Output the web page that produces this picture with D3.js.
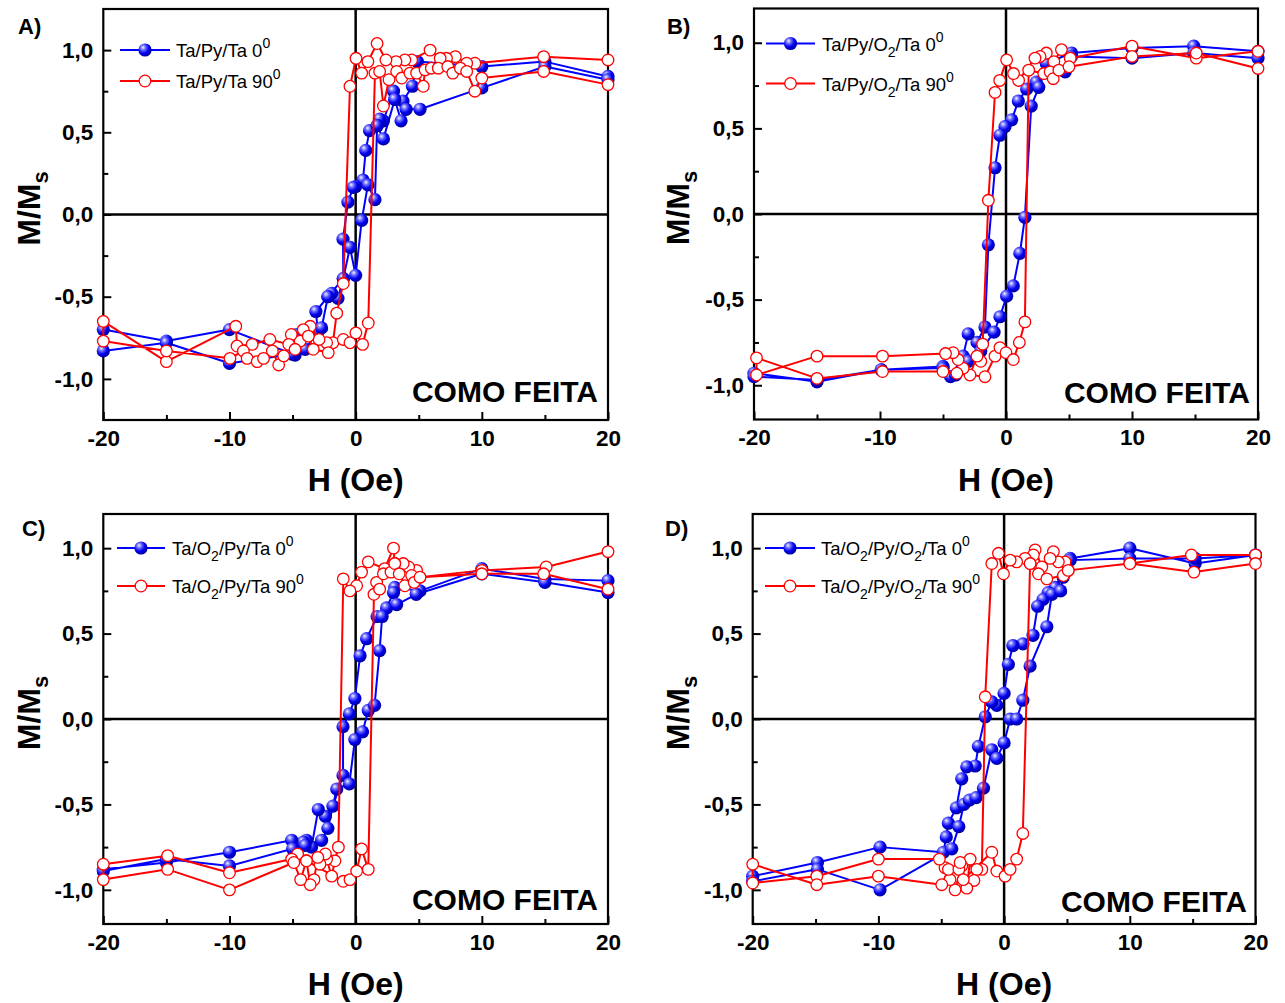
<!DOCTYPE html>
<html><head><meta charset="utf-8">
<script src="https://cdn.jsdelivr.net/npm/d3@7"></script>
<style>body{margin:0;background:#fff}svg{display:block}text{font-family:"Liberation Sans",Arial,sans-serif}</style>
</head><body><svg id="c" width="1285" height="1003"></svg>
<script>
// ---------- data ----------
const xTicks = [-20, -10, 0, 10, 20];
const xMinorTicks = [-15, -5, 5, 15];
const yTicks = [-1, -0.5, 0, 0.5, 1];
const yMinorTicks = [-0.75, -0.25, 0.25, 0.75];
const yTickLabels = ["-1,0", "-0,5", "0,0", "0,5", "1,0"];
const xTickLabels = ["-20", "-10", "0", "10", "20"];
const panelLetters = ["A)", "B)", "C)", "D)"];
const legendBlue = ["Ta/Py/Ta 0^0", "Ta/Py/O_2/Ta 0^0", "Ta/O_2/Py/Ta 0^0", "Ta/O_2/Py/O_2/Ta 0^0"];
const legendRed = ["Ta/Py/Ta 90^0", "Ta/Py/O_2/Ta 90^0", "Ta/O_2/Py/Ta 90^0", "Ta/O_2/Py/O_2/Ta 90^0"];
const xTitle = "H (Oe)";
const yTitle = "M/M_s";
const stateLabel = "COMO FEITA";

// Panel A  (H in Oe, M/Ms)
const blueA = [[20,0.84],[15,0.93],[10,0.90],[4.9,0.93],[4.5,0.78],[3.75,0.69],[3.1,0.70],[3.0,0.75],[2.2,0.57],[1.9,0.58],[1.7,0.54],[1.1,0.51],[0.8,0.39],[0.58,0.21],[0,0.17],[-0.19,0.165],[-0.61,0.075],[-1.0,-0.15],[-0.98,-0.39],[-1.4,-0.51],[-1.9,-0.48],[-2.2,-0.50],[-3.15,-0.59],[-3.0,-0.71],[-4.7,-0.73],[-4.8,-0.855],[-10,-0.70],[-15,-0.77],[-20,-0.70],
  [-20,-0.83],[-15,-0.78],[-10,-0.905],[-5,-0.85],[-4.0,-0.82],[-3.0,-0.71],[-2.7,-0.69],[-2.2,-0.50],[-0.98,-0.39],[-0.45,-0.20],[0,-0.37],[0.48,-0.036],[0.97,0.18],[1.53,0.09],[1.7,0.54],[2.2,0.46],[3.1,0.70],[3.6,0.57],[4.0,0.64],[5.1,0.64],[10,0.77],[15,0.90],[20,0.82]];
const redA = [[20,0.94],[14.9,0.96],[9.45,0.92],[8.8,0.92],[7.9,0.96],[7.2,0.95],[6.7,0.95],[5.9,1.0],[4.44,0.94],[3.9,0.94],[3.2,0.93],[2.4,0.94],[1.7,1.04],[0.97,0.93],[0.48,0.86],[0.03,0.95],[-0.45,0.78],[-0.98,-0.42],[-1.5,-0.60],[-1.8,-0.78],[-2.3,-0.78],[-2.9,-0.76],[-3.6,-0.68],[-4.15,-0.70],[-4.4,-0.77],[-5.1,-0.73],[-5.3,-0.79],[-6.8,-0.76],[-8.2,-0.79],[-9.4,-0.80],[-9.5,-0.68],[-15,-0.895],[-20,-0.65],
  [-20,-0.77],[-15,-0.83],[-9.96,-0.875],[-8.9,-0.83],[-8.6,-0.875],[-7.8,-0.895],[-7.3,-0.875],[-6.6,-0.83],[-6.1,-0.915],[-5.7,-0.86],[-4.8,-0.82],[-3.75,-0.74],[-3.36,-0.82],[-2.17,-0.84],[-0.98,-0.76],[-0.45,-0.78],[0.02,-0.72],[0.55,-0.79],[1.0,-0.66],[1.53,0.86],[1.9,0.87],[2.2,0.66],[2.64,0.82],[3.25,0.87],[3.65,0.83],[4.3,0.86],[4.83,0.86],[5.36,0.78],[5.5,0.88],[6.0,0.89],[6.55,0.89],[7.3,0.90],[7.7,0.86],[8.3,0.89],[8.8,0.87],[9.45,0.75],[10,0.83],[14.9,0.87],[20,0.79]];

// Panel B
const blueB = [[20,0.95],[14.9,0.98],[10,0.97],[5.2,0.94],[3.2,0.88],[2.4,0.77],[1.64,0.73],[0.98,0.66],[0.45,0.55],[-0.08,0.51],[-0.48,0.46],[-0.87,0.27],[-1.4,-0.18],[-1.67,-0.66],[-2.3,-0.75],[-3.0,-0.70],[-3.4,-0.83],[-4.4,-0.95],[-5,-0.89],[-9.9,-0.91],[-15,-0.98],[-20,-0.93],
  [-20,-0.95],[-15,-0.97],[-9.9,-0.91],[-5,-0.90],[-4.0,-0.94],[-3.0,-0.86],[-2.0,-0.80],[-0.95,-0.69],[-0.48,-0.60],[0.05,-0.48],[0.58,-0.42],[1.1,-0.23],[1.5,-0.02],[2.0,0.63],[2.6,0.74],[3.2,0.88],[4.7,0.83],[5.2,0.92],[10,0.91],[14.9,0.94],[20,0.91]];
const redB = [[20,0.95],[15.1,0.91],[10,0.98],[5.1,0.91],[4.4,0.96],[3.8,0.89],[3.2,0.94],[2.7,0.92],[2.3,0.91],[1.0,0.78],[0.6,0.82],[0.05,0.90],[-0.5,0.78],[-0.87,0.71],[-1.4,0.08],[-1.85,-0.76],[-2.0,-0.86],[-2.3,-0.83],[-2.86,-0.94],[-3.4,-0.90],[-3.8,-0.85],[-4.2,-0.81],[-4.8,-0.815],[-9.8,-0.83],[-15,-0.83],[-19.8,-0.94],
  [-19.8,-0.84],[-15,-0.96],[-9.8,-0.92],[-5,-0.92],[-3.9,-0.93],[-1.67,-0.95],[-0.87,-0.83],[-0.48,-0.78],[0,-0.81],[0.58,-0.85],[1.06,-0.75],[1.5,-0.63],[1.8,0.84],[3.0,0.82],[3.5,0.83],[3.75,0.79],[4.2,0.84],[5,0.86],[10,0.92],[15.1,0.94],[20,0.85]];

// Panel C
const blueC = [[20,0.81],[15,0.82],[10,0.88],[5.1,0.75],[3.1,0.77],[3.0,0.74],[2.45,0.65],[1.7,0.60],[0.87,0.47],[0.35,0.37],[-0.06,0.12],[-0.5,0.03],[-1.0,-0.045],[-1.0,-0.33],[-1.8,-0.51],[-2.4,-0.57],[-2.96,-0.53],[-3.5,-0.75],[-3.9,-0.71],[-4.15,-0.72],[-5.07,-0.71],[-10,-0.78],[-15,-0.84],[-20,-0.88],
  [-20,-0.89],[-15,-0.82],[-10,-0.86],[-5,-0.76],[-4,-0.74],[-2.7,-0.71],[-2.2,-0.64],[-1.5,-0.41],[-0.5,-0.38],[-0.06,-0.12],[0.55,-0.075],[1.0,0.05],[1.5,0.08],[1.9,0.40],[2.1,0.60],[3.25,0.67],[4.8,0.73],[10,0.85],[15,0.80],[20,0.74]];
const redC = [[20,0.98],[15.1,0.89],[10,0.87],[5.1,0.83],[4.83,0.87],[4.2,0.89],[3.77,0.91],[3.1,0.91],[3.0,1.0],[2.3,0.88],[1.0,0.92],[0.47,0.86],[0.08,0.78],[-0.45,0.75],[-0.98,0.82],[-1.37,-0.75],[-1.64,-0.83],[-1.9,-0.92],[-2.3,-0.82],[-2.4,-0.79],[-2.83,-0.85],[-3.0,-0.81],[-3.3,-0.94],[-3.6,-0.97],[-3.9,-0.83],[-4.6,-0.79],[-5.07,-0.82],[-10,-0.90],[-14.9,-0.80],[-20,-0.85],
  [-20,-0.94],[-14.9,-0.88],[-10,-1.0],[-4.9,-0.84],[-4.36,-0.94],[-3.9,-0.83],[-0.98,-0.95],[-0.45,-0.94],[0.08,-0.89],[0.47,-0.76],[1.0,-0.88],[1.45,0.73],[1.66,0.80],[1.9,0.76],[2.2,0.85],[2.8,0.86],[3.1,0.91],[3.45,0.85],[3.9,0.78],[4.44,0.84],[4.64,0.80],[5.1,0.83],[10,0.85],[14.9,0.85],[20,0.76]];

// Panel D
const blueD = [[20,0.96],[15.2,0.91],[10,1.0],[5.25,0.94],[4.06,0.77],[3.5,0.74],[3.1,0.70],[2.67,0.66],[2.3,0.49],[1.5,0.44],[0.7,0.43],[0.34,0.32],[0,0.15],[-0.58,0.08],[-0.98,0.10],[-1.5,0.013],[-2.04,-0.16],[-2.3,-0.275],[-2.97,-0.28],[-3.37,-0.35],[-3.8,-0.52],[-4.43,-0.61],[-4.6,-0.69],[-4.83,-0.78],[-9.87,-0.75],[-14.85,-0.84],[-20,-0.92],
  [-20,-0.95],[-14.85,-0.88],[-9.87,-1.0],[-4.16,-0.76],[-3.6,-0.63],[-3.2,-0.50],[-2.76,-0.475],[-2.23,-0.46],[-1.64,-0.405],[-0.98,-0.18],[-0.58,-0.23],[0,-0.14],[0.48,0.0],[1.0,0.0],[1.49,0.11],[2.07,0.31],[3.4,0.54],[3.8,0.73],[4.5,0.75],[4.7,0.83],[5.25,0.93],[10,0.94],[15.2,0.94],[20,0.96]];
const redD = [[20,0.96],[14.9,0.96],[10,0.91],[5.1,0.87],[4.85,0.92],[4.32,0.92],[3.92,0.98],[3.66,0.94],[3.0,0.89],[2.47,0.99],[2.33,0.96],[2.07,0.91],[1.67,0.94],[1.0,0.92],[0.48,0.93],[-0.05,0.85],[-0.45,0.97],[-0.98,0.91],[-1.5,0.13],[-1.77,-0.88],[-2.17,-0.88],[-2.4,-0.945],[-2.7,-0.82],[-2.97,-0.99],[-3.37,-0.86],[-3.9,-1.0],[-4.3,-0.94],[-4.7,-0.87],[-5.15,-0.82],[-10,-0.82],[-14.9,-0.92],[-20,-0.96],
  [-20,-0.85],[-14.9,-0.97],[-10,-0.92],[-4.96,-0.97],[-4.43,-0.88],[-3.6,-0.88],[-3.5,-0.84],[-3.25,-0.94],[-0.98,-0.78],[-0.58,-0.89],[0.08,-0.92],[0.48,-0.88],[1.0,-0.82],[1.49,-0.67],[2.07,0.91],[2.73,0.85],[3.4,0.82],[4.72,0.84],[5.1,0.87],[10,0.91],[15.1,0.86],[20,0.91]];

// ---------- layout ----------
const panels = [
  {x0:103.3, x1:608, y0:9, y1:420, ymax:1.25, blue:blueA, red:redA, leg:{lx0:120,lx1:170,ly1:50,ly2:81,tx:176}, letter:{x:18,y:34}, yt:{x:40}, cf:{x:598,y:402}},
  {x0:754, x1:1258, y0:8.5, y1:419.5, ymax:1.2, blue:blueB, red:redB, leg:{lx0:766,lx1:815,ly1:43.5,ly2:83.5,tx:822}, letter:{x:667,y:34}, yt:{x:689}, cf:{x:1250,y:403}},
  {x0:103.3, x1:608, y0:514, y1:924, ymax:1.2, blue:blueC, red:redC, leg:{lx0:117,lx1:165,ly1:548,ly2:586,tx:172}, letter:{x:22,y:536}, yt:{x:40}, cf:{x:598,y:910}},
  {x0:752.7, x1:1255.5, y0:514, y1:924, ymax:1.2, blue:blueD, red:redD, leg:{lx0:765,lx1:815,ly1:548,ly2:586,tx:821}, letter:{x:665,y:536}, yt:{x:689}, cf:{x:1247,y:912}}
];

const svg = d3.select("#c");
const defs = svg.append("defs");
const grad = defs.append("radialGradient").attr("id","ball").attr("cx","0.38").attr("cy","0.35").attr("r","0.65").attr("fx","0.35").attr("fy","0.3");
grad.append("stop").attr("offset","0").attr("stop-color","#f4f4ff");
grad.append("stop").attr("offset","0.3").attr("stop-color","#6a6aff");
grad.append("stop").attr("offset","0.65").attr("stop-color","#0000f0");
grad.append("stop").attr("offset","1").attr("stop-color","#0000a0");

function rich(sel, str, size, subSize, subDy, supDy){
  const parts = str.split(/([_^].)/).filter(s=>s.length);
  let shift = 0;
  parts.forEach(p=>{
    if(p[0]==="_"){ sel.append("tspan").attr("font-size",subSize).attr("dy",subDy-shift).text(p.slice(1)); shift=subDy; }
    else if(p[0]==="^"){ sel.append("tspan").attr("font-size",subSize).attr("dy",-supDy-shift).text(p.slice(1)); shift=-supDy; }
    else { sel.append("tspan").attr("font-size",size).attr("dy",-shift).text(p); shift=0; }
  });
}

const BLUE="#0000ff", RED="#ff0000", R=6.3;

panels.forEach((p,i)=>{
  const x = d3.scaleLinear().domain([-20,20]).range([p.x0,p.x1]);
  const y = d3.scaleLinear().domain([-p.ymax,p.ymax]).range([p.y1,p.y0]);
  const g = svg.append("g");

  // axes
  const ax = g.append("g").attr("transform",`translate(0,${p.y1})`)
    .call(d3.axisBottom(x).tickValues(xTicks).tickSize(-8).tickPadding(10).tickFormat((d,k)=>xTickLabels[k]));
  g.append("g").attr("transform",`translate(0,${p.y1})`)
    .call(d3.axisBottom(x).tickValues(xMinorTicks).tickSize(-5).tickFormat(""));
  const ay = g.append("g").attr("transform",`translate(${p.x0},0)`)
    .call(d3.axisLeft(y).tickValues(yTicks).tickSize(-8).tickPadding(10).tickFormat((d,k)=>yTickLabels[k]));
  g.append("g").attr("transform",`translate(${p.x0},0)`)
    .call(d3.axisLeft(y).tickValues(yMinorTicks).tickSize(-5).tickFormat(""));
  g.selectAll(".domain").remove();
  g.selectAll(".tick line").attr("stroke","#000").attr("stroke-width",2);
  g.selectAll(".tick text").attr("font-size",22.5).attr("font-weight","bold").attr("fill","#000")
    .attr("font-family","'Liberation Sans',Arial,sans-serif");
  ax.selectAll(".tick text").attr("dy","0.71em");

  // zero lines
  g.append("line").attr("x1",p.x0).attr("x2",p.x1).attr("y1",y(0)).attr("y2",y(0)).attr("stroke","#000").attr("stroke-width",2.5);
  g.append("line").attr("x1",x(0)).attr("x2",x(0)).attr("y1",p.y0).attr("y2",p.y1).attr("stroke","#000").attr("stroke-width",2.5);

  // frame
  g.append("rect").attr("x",p.x0).attr("y",p.y0).attr("width",p.x1-p.x0).attr("height",p.y1-p.y0)
    .attr("fill","none").attr("stroke","#000").attr("stroke-width",2.2);

  const line = d3.line().x(d=>x(d[0])).y(d=>y(d[1]));
  // blue
  g.append("path").datum(p.blue).attr("d",line).attr("fill","none").attr("stroke",BLUE).attr("stroke-width",2).attr("stroke-linejoin","round");
  g.append("g").selectAll("circle").data(p.blue).join("circle")
    .attr("cx",d=>x(d[0])).attr("cy",d=>y(d[1])).attr("r",R+0.3).attr("fill","url(#ball)");
  // red
  g.append("path").datum(p.red).attr("d",line).attr("fill","none").attr("stroke",RED).attr("stroke-width",2).attr("stroke-linejoin","round");
  g.append("g").selectAll("circle").data(p.red).join("circle")
    .attr("cx",d=>x(d[0])).attr("cy",d=>y(d[1])).attr("r",R-0.5).attr("fill","#fff").attr("stroke",RED).attr("stroke-width",1.3);

  // legend
  const L = p.leg, mx=(L.lx0+L.lx1)/2;
  g.append("line").attr("x1",L.lx0).attr("x2",L.lx1).attr("y1",L.ly1).attr("y2",L.ly1).attr("stroke",BLUE).attr("stroke-width",2);
  g.append("circle").attr("cx",mx).attr("cy",L.ly1).attr("r",R+0.3).attr("fill","url(#ball)");
  g.append("line").attr("x1",L.lx0).attr("x2",L.lx1).attr("y1",L.ly2).attr("y2",L.ly2).attr("stroke",RED).attr("stroke-width",2);
  g.append("circle").attr("cx",mx).attr("cy",L.ly2).attr("r",R-0.5).attr("fill","#fff").attr("stroke",RED).attr("stroke-width",1.3);
  const t1 = g.append("text").attr("x",L.tx).attr("y",L.ly1+7).attr("fill","#000");
  rich(t1, legendBlue[i], 18.5, 14, 6, 9);
  const t2 = g.append("text").attr("x",L.tx).attr("y",L.ly2+7).attr("fill","#000");
  rich(t2, legendRed[i], 18.5, 14, 6, 9);

  // panel letter
  g.append("text").attr("x",p.letter.x).attr("y",p.letter.y).attr("font-size",22).attr("font-weight","bold").text(panelLetters[i]);

  // state label
  g.append("text").attr("x",p.cf.x).attr("y",p.cf.y).attr("text-anchor","end").attr("font-size",30).attr("font-weight","bold").text(stateLabel);

  // axis titles
  g.append("text").attr("x",(p.x0+p.x1)/2).attr("y",p.y1+71).attr("text-anchor","middle").attr("font-size",32).attr("font-weight","bold").text(xTitle);
  const yc = (p.y0+p.y1)/2 - 6;
  const yt = g.append("text").attr("transform",`translate(${p.yt.x},${yc}) rotate(-90)`).attr("text-anchor","middle").attr("font-weight","bold");
  rich(yt, yTitle, 32, 22, 8, 8);
});
</script></body></html>
